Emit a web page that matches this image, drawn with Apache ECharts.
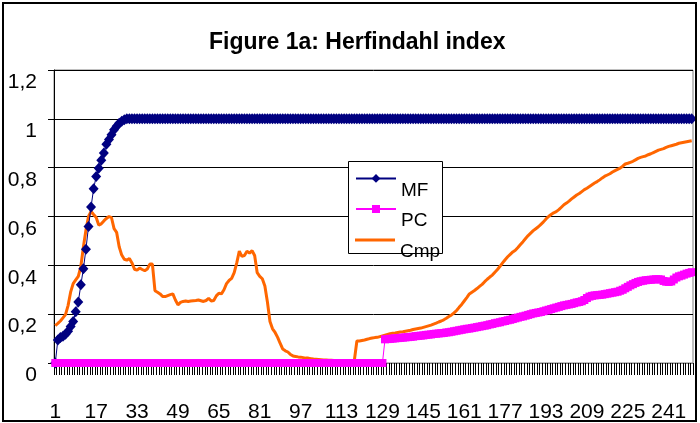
<!DOCTYPE html>
<html>
<head>
<meta charset="utf-8">
<script src="https://cdn.jsdelivr.net/npm/echarts@6/dist/echarts.min.js"></script>
<style>
  html, body { margin: 0; padding: 0; background: #fff; }
  #chartContainer { width: 700px; height: 423px; }
</style>
</head>
<body>
<div id="chartContainer"></div>
<script>
// x categories 1..250
const categories = [];
for (let i = 1; i <= 250; i++) categories.push(String(i));

const yTickLabels = ['0', '0,2', '0,4', '0,6', '0,8', '1', '1,2'];

// MF
const mfValues = [
    0, 0.094, 0.104, 0.11, 0.118, 0.13, 0.15, 0.17, 0.21, 0.25,
    0.32, 0.386, 0.466, 0.559, 0.639, 0.714, 0.764, 0.798, 0.83, 0.86,
    0.896, 0.915, 0.935, 0.955, 0.97, 0.982, 0.99, 0.996, 1, 1,
    1, 1, 1, 1, 1, 1, 1, 1, 1, 1, 1, 1, 1, 1, 1, 1, 1, 1, 1, 1,
    1, 1, 1, 1, 1, 1, 1, 1, 1, 1, 1, 1, 1, 1, 1, 1, 1, 1, 1, 1,
    1, 1, 1, 1, 1, 1, 1, 1, 1, 1, 1, 1, 1, 1, 1, 1, 1, 1, 1, 1,
    1, 1, 1, 1, 1, 1, 1, 1, 1, 1, 1, 1, 1, 1, 1, 1, 1, 1, 1, 1,
    1, 1, 1, 1, 1, 1, 1, 1, 1, 1, 1, 1, 1, 1, 1, 1, 1, 1, 1, 1,
    1, 1, 1, 1, 1, 1, 1, 1, 1, 1, 1, 1, 1, 1, 1, 1, 1, 1, 1, 1,
    1, 1, 1, 1, 1, 1, 1, 1, 1, 1, 1, 1, 1, 1, 1, 1, 1, 1, 1, 1,
    1, 1, 1, 1, 1, 1, 1, 1, 1, 1, 1, 1, 1, 1, 1, 1, 1, 1, 1, 1,
    1, 1, 1, 1, 1, 1, 1, 1, 1, 1, 1, 1, 1, 1, 1, 1, 1, 1, 1, 1,
    1, 1, 1, 1, 1, 1, 1, 1, 1, 1, 1, 1, 1, 1, 1, 1, 1, 1, 1, 1,
    1, 1, 1, 1, 1, 1, 1, 1, 1, 1, 1, 1, 1, 1, 1, 1, 1, 1, 1, 1
];

// PC
const pcValues = [
    0, 0, 0, 0, 0, 0, 0, 0, 0, 0, 0, 0, 0, 0, 0, 0, 0, 0, 0, 0,
    0, 0, 0, 0, 0, 0, 0, 0, 0, 0, 0, 0, 0, 0, 0, 0, 0, 0, 0, 0,
    0, 0, 0, 0, 0, 0, 0, 0, 0, 0, 0, 0, 0, 0, 0, 0, 0, 0, 0, 0,
    0, 0, 0, 0, 0, 0, 0, 0, 0, 0, 0, 0, 0, 0, 0, 0, 0, 0, 0, 0,
    0, 0, 0, 0, 0, 0, 0, 0, 0, 0, 0, 0, 0, 0, 0, 0, 0, 0, 0, 0,
    0, 0, 0, 0, 0, 0, 0, 0, 0, 0, 0, 0, 0, 0, 0, 0, 0, 0, 0, 0,
    0, 0, 0, 0, 0, 0, 0, 0, 0,
    0.097, 0.098, 0.099, 0.1, 0.101,
    0.102, 0.103, 0.104, 0.105, 0.106,
    0.107, 0.108, 0.11, 0.111, 0.112,
    0.113, 0.115, 0.116, 0.117, 0.119,
    0.12, 0.121, 0.122, 0.123, 0.125,
    0.126, 0.128, 0.13, 0.132, 0.134,
    0.136, 0.138, 0.14, 0.141, 0.143,
    0.145, 0.147, 0.149, 0.151, 0.153,
    0.155, 0.158, 0.16, 0.163, 0.165,
    0.167, 0.17, 0.172, 0.175, 0.177,
    0.18, 0.183, 0.186, 0.189, 0.191,
    0.194, 0.197, 0.2, 0.203, 0.205,
    0.207, 0.209, 0.212, 0.215, 0.218,
    0.221, 0.224, 0.227, 0.23, 0.233,
    0.236, 0.238, 0.24, 0.242, 0.245,
    0.248, 0.25, 0.253, 0.258, 0.266,
    0.272, 0.275, 0.277, 0.278, 0.279,
    0.28, 0.282, 0.284, 0.286, 0.288,
    0.29, 0.292, 0.296, 0.3, 0.306,
    0.312, 0.318, 0.323, 0.328, 0.332,
    0.335, 0.337, 0.339, 0.34, 0.341,
    0.342, 0.343, 0.343, 0.342, 0.336,
    0.333, 0.332, 0.334, 0.342, 0.35,
    0.355, 0.358, 0.362, 0.366, 0.369, 0.372
];

// Cmp
const cmpValues = [
    0.153, 0.162, 0.172, 0.185, 0.198, 0.235, 0.29, 0.325, 0.34, 0.355,
    0.395, 0.475, 0.545, 0.6, 0.621, 0.608, 0.596, 0.565, 0.57, 0.582,
    0.592, 0.6, 0.595, 0.55, 0.535, 0.476, 0.442, 0.425, 0.421, 0.428,
    0.41, 0.384, 0.38, 0.389, 0.383, 0.378, 0.385, 0.405, 0.405, 0.296,
    0.29, 0.283, 0.272, 0.272, 0.276, 0.28, 0.283, 0.258, 0.238, 0.248,
    0.252, 0.254, 0.252, 0.254, 0.255, 0.256, 0.258, 0.255, 0.252, 0.256,
    0.265, 0.254, 0.256, 0.275, 0.286, 0.283, 0.3, 0.325, 0.338, 0.347,
    0.37, 0.41, 0.458, 0.437, 0.44, 0.458, 0.45, 0.46, 0.44, 0.37,
    0.355, 0.345, 0.315, 0.25, 0.17, 0.14, 0.125, 0.105, 0.08, 0.057,
    0.05, 0.045, 0.035, 0.029, 0.027, 0.025, 0.024, 0.022, 0.02, 0.02,
    0.018, 0.016, 0.015, 0.014, 0.013, 0.012, 0.012, 0.011, 0.011, 0.01,
    0.01, 0.01, 0.01, 0.01, 0.01, 0.01, 0.01, 0.01, 0.09, 0.09,
    0.092, 0.094, 0.097, 0.1, 0.102, 0.104, 0.105, 0.108, 0.111, 0.114,
    0.117, 0.12, 0.122, 0.123, 0.125, 0.127, 0.128, 0.13, 0.132, 0.134,
    0.137, 0.139, 0.141, 0.143, 0.146, 0.149, 0.152, 0.155, 0.159, 0.163,
    0.168, 0.172, 0.177, 0.183, 0.19, 0.197, 0.205, 0.215, 0.228, 0.24,
    0.254, 0.268, 0.283, 0.29, 0.297, 0.305, 0.314, 0.322, 0.333, 0.343,
    0.352, 0.36, 0.372, 0.383, 0.396, 0.41, 0.423, 0.435, 0.445, 0.455,
    0.462, 0.473, 0.485, 0.497, 0.51, 0.522, 0.532, 0.542, 0.55, 0.558,
    0.568, 0.578, 0.59, 0.6, 0.608, 0.615, 0.62, 0.628, 0.638, 0.648,
    0.655, 0.663, 0.672, 0.68, 0.688, 0.694, 0.702, 0.71, 0.716, 0.723,
    0.73, 0.737, 0.743, 0.75, 0.758, 0.765, 0.77, 0.775, 0.782, 0.788,
    0.793, 0.798, 0.806, 0.815, 0.818, 0.822, 0.826, 0.832, 0.838, 0.842,
    0.845, 0.848, 0.853, 0.857, 0.862, 0.867, 0.872, 0.875, 0.878, 0.883,
    0.887, 0.89, 0.893, 0.896, 0.9, 0.902, 0.904, 0.906, 0.908, 0.91
];

const FONT = '"Liberation Sans", Arial, sans-serif';

// 凡例（1項目ずつ配置、文字はアイコンより下にずらす）
function legendItem(item, top, itemHeight) {
    return {
        data: [item],
        left: 355,
        top: top,
        padding: 0,
        itemWidth: 40,
        itemHeight: itemHeight,
        selectedMode: false,
        z: 5,
        formatter: '{t|{name}}',
        textStyle: {
            rich: {
                t: {
                    fontFamily: FONT,
                    fontSize: 19,
                    color: '#000',
                    padding: [24, 0, 0, 0]
                }
            }
        }
    };
}

const chart = echarts.init(document.getElementById('chartContainer'));

const option = {
    animation: false,
    backgroundColor: '#fff',
    title: {
        text: 'Figure 1a: Herfindahl index',
        left: 209,
        top: 31,
        padding: 0,
        textStyle: {
            fontFamily: FONT,
            fontSize: 23,
            fontWeight: 'bold',
            color: '#000'
        }
    },
    legend: [
        legendItem('MF', 174, 11),
        legendItem('PC', 205, 10),
        legendItem({ name: 'Cmp', icon: 'rect' }, 238.5, 3)
    ],
    graphic: [
        {
            type: 'rect',
            z: 100,
            silent: true,
            shape: { x: 3, y: 3, width: 693, height: 418 },
            style: { fill: null, stroke: '#000', lineWidth: 2 }
        },
        {
            type: 'rect',
            z: 3,
            silent: true,
            shape: { x: 348.5, y: 161.5, width: 94, height: 92 },
            style: { fill: '#fff', stroke: '#000', lineWidth: 1 }
        }
    ],
    grid: {
        left: 54,
        right: 7,
        top: 70,
        bottom: 53,
        show: true,
        borderColor: '#808080',
        borderWidth: 1,
        backgroundColor: 'transparent'
    },
    xAxis: {
        type: 'category',
        data: categories,
        boundaryGap: true,
        axisLine: { show: true, lineStyle: { color: '#808080', width: 1 } },
        axisTick: {
            show: true,
            inside: false,
            interval: function () { return true; },
            length: 12,
            lineStyle: { color: '#000', width: 1 }
        },
        axisLabel: {
            interval: 15,
            margin: 39,
            fontFamily: FONT,
            fontSize: 21,
            color: '#000'
        },
        splitLine: { show: false }
    },
    yAxis: {
        type: 'value',
        min: 0,
        max: 1.2,
        interval: 0.2,
        axisLine: { show: true, lineStyle: { color: '#000', width: 1 } },
        axisTick: { show: true, length: 6, lineStyle: { color: '#000' } },
        axisLabel: {
            margin: 17,
            verticalAlign: 'top',
            padding: [2, 0, 0, 0],
            fontFamily: FONT,
            fontSize: 21,
            color: '#000',
            formatter: function (v) {
                return yTickLabels[Math.round(v / 0.2)];
            }
        },
        splitLine: { show: true, lineStyle: { color: '#000', width: 1 } }
    },
    series: [
        {
            name: 'Cmp',
            type: 'line',
            data: cmpValues,
            symbol: 'none',
            color: '#FF6600',
            itemStyle: { color: '#FF6600' },
            lineStyle: { color: '#FF6600', width: 3 },
            z: 2
        },
        {
            name: 'MF',
            type: 'line',
            data: mfValues,
            symbol: 'diamond',
            symbolSize: [10, 11],
            showAllSymbol: true,
            color: '#000080',
            itemStyle: { color: '#000080' },
            lineStyle: { color: '#000080', width: 1 },
            z: 3
        },
        {
            name: 'PC',
            type: 'line',
            data: pcValues,
            symbol: 'rect',
            symbolSize: 8,
            showAllSymbol: true,
            color: '#FF00FF',
            itemStyle: { color: '#FF00FF' },
            lineStyle: { color: '#FF00FF', width: 1 },
            z: 4
        }
    ]
};

chart.setOption(option);
</script>
</body>
</html>
